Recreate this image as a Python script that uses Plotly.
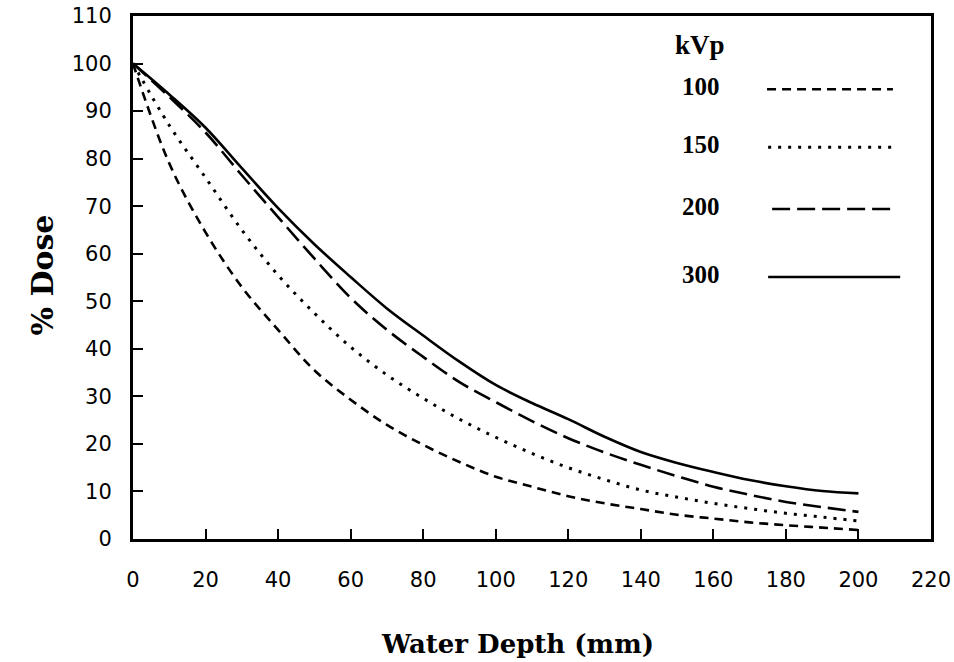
import plotly.graph_objects as go

depth = [0, 10, 20, 30, 40, 50, 60, 70, 80, 90, 100, 110, 120, 130, 140, 150, 160, 170, 180, 190, 200]
dose_100 = [100, 79, 64.5, 53, 44, 35.5, 29.3, 24, 19.8, 16.2, 13.1, 11, 9.0, 7.5, 6.3, 5.1, 4.3, 3.5, 2.9, 2.4, 1.9]
dose_150 = [100, 87, 76, 65, 55.5, 47.5, 40.4, 34.5, 29.6, 25.2, 21.4, 18, 15, 12.5, 10.3, 8.8, 7.5, 6.4, 5.4, 4.6, 3.8]
dose_200 = [100, 93, 85.5, 76.5, 67.7, 59, 50.7, 44, 38.3, 33, 28.8, 24.8, 21.2, 18.2, 15.6, 13.2, 11.0, 9.3, 7.8, 6.7, 5.7]
dose_300 = [100, 93.5, 86.5, 78, 69.6, 62, 55.1, 48.5, 42.8, 37.3, 32.4, 28.6, 25.2, 21.5, 18.3, 16, 14.1, 12.4, 11.1, 10.1, 9.6]

kvp_labels = ["100", "150", "200", "300"]
series = [dose_100, dose_150, dose_200, dose_300]
dashes = ["9px,6px", "3px,7px", "18px,7px", "solid"]
widths = [2.6, 3, 2.6, 2.6]

x_ticks = list(range(0, 221, 20))
y_ticks = list(range(0, 111, 10))

fig = go.Figure()
for lab, vals, dash, w in zip(kvp_labels, series, dashes, widths):
    fig.add_trace(go.Scatter(x=depth, y=vals, mode="lines", name=lab,
                             line=dict(color="black", width=w, dash=dash, shape="spline"),
                             showlegend=False))

# custom legend (text left, line sample right)
leg_y = [94.6, 82.4, 69.4, 55.1]
leg_x0 = [174.8, 175.1, 176.2, 175.1]
leg_x1 = [209.5, 209.5, 210.1, 211.5]
fig.add_annotation(x=156.3, y=103.9, xref="x", yref="y", text="<b>kVp</b>", showarrow=False,
                   font=dict(family="Liberation Serif", size=27, color="black"))
for lab, yy, x0, x1, dash, w in zip(kvp_labels, leg_y, leg_x0, leg_x1, dashes, widths):
    fig.add_annotation(x=156.6, y=yy + 0.6, xref="x", yref="y", text=f"<b>{lab}</b>", showarrow=False,
                       font=dict(family="Liberation Serif", size=25, color="black"))
    fig.add_shape(type="line", xref="x", yref="y", x0=x0, x1=x1, y0=yy, y1=yy,
                  line=dict(color="black", width=w, dash=dash))

fig.add_annotation(x=(517 - 133) / 798, y=(539 - 644) / 523, xref="paper", yref="paper",
                   text="<b>Water Depth (mm)</b>", showarrow=False, yanchor="middle",
                   font=dict(family="DejaVu Serif", size=26, color="black"))
fig.add_annotation(x=(22 - 133) / 798, y=(539 - 275) / 523, xref="paper", yref="paper",
                   text="<b>% Dose</b>", showarrow=False, textangle=-90,
                   font=dict(family="DejaVu Serif", size=30, color="black"))

axis_common = dict(showgrid=False, zeroline=False, showline=True, linecolor="black", linewidth=3,
                   mirror=True, ticks="inside", ticklen=10, tickwidth=2, tickcolor="black",
                   automargin=False,
                   tickfont=dict(family="DejaVu Sans", size=21, color="black"))
fig.update_xaxes(range=[0, 220], tickvals=x_ticks, ticklabelstandoff=20, **axis_common)
fig.update_yaxes(range=[0, 110], tickvals=y_ticks, ticklabelstandoff=14, **axis_common)

fig.update_layout(width=954, height=662, margin=dict(l=133, r=23, t=16, b=123, autoexpand=False),
                  plot_bgcolor="white", paper_bgcolor="white")
fig.write_html("out.html")
